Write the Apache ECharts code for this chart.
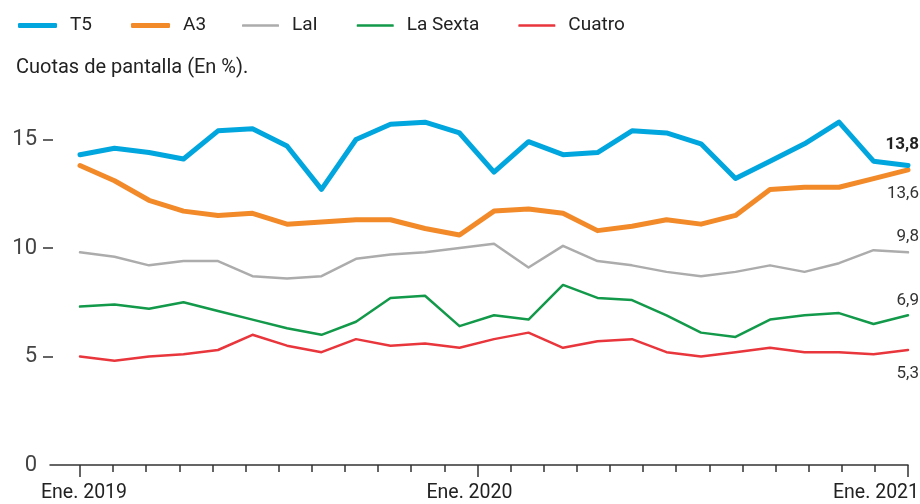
<!DOCTYPE html>
<html>
<head>
<meta charset="utf-8">
<script src="https://cdn.jsdelivr.net/npm/echarts@6/dist/echarts.min.js"></script>
<style>html,body{margin:0;padding:0;background:#fff}#c{width:920px;height:504px}</style>
</head>
<body>
<div id="c"></div>
<script>
var months = ['Ene. 2019','Feb. 2019','Mar. 2019','Abr. 2019','May. 2019','Jun. 2019','Jul. 2019','Ago. 2019','Sep. 2019','Oct. 2019','Nov. 2019','Dic. 2019',
  'Ene. 2020','Feb. 2020','Mar. 2020','Abr. 2020','May. 2020','Jun. 2020','Jul. 2020','Ago. 2020','Sep. 2020','Oct. 2020','Nov. 2020','Dic. 2020','Ene. 2021'];
var tickLabels = ['Ene. 2019','','','','','','','','','','','','Ene. 2020','','','','','','','','','','','','','Ene. 2021'];
var seriesNames = ['T5','A3','LaI','La Sexta','Cuatro'];
var t5 = [14.3,14.6,14.4,14.1,15.4,15.5,14.7,12.7,15.0,15.7,15.8,15.3,13.5,14.9,14.3,14.4,15.4,15.3,14.8,13.2,14.0,14.8,15.8,14.0,13.8];
var a3 = [13.8,13.1,12.2,11.7,11.5,11.6,11.1,11.2,11.3,11.3,10.9,10.6,11.7,11.8,11.6,10.8,11.0,11.3,11.1,11.5,12.7,12.8,12.8,13.2,13.6];
var lai = [9.8,9.6,9.2,9.4,9.4,8.7,8.6,8.7,9.5,9.7,9.8,10.0,10.2,9.1,10.1,9.4,9.2,8.9,8.7,8.9,9.2,8.9,9.3,9.9,9.8];
var laSexta = [7.3,7.4,7.2,7.5,7.1,6.7,6.3,6.0,6.6,7.7,7.8,6.4,6.9,6.7,8.3,7.7,7.6,6.9,6.1,5.9,6.7,6.9,7.0,6.5,6.9];
var cuatro = [5.0,4.8,5.0,5.1,5.3,6.0,5.5,5.2,5.8,5.5,5.6,5.4,5.8,6.1,5.4,5.7,5.8,5.2,5.0,5.2,5.4,5.2,5.2,5.1,5.3];
var yLabels = [0,5,10,15];
var yTicks = [5,10,15];

var FONT = "Roboto, 'Liberation Sans', sans-serif";
var colors = ['#00a6dd','#f28a2a','#acacac','#12994a','#e8363c'];
var widths = [5,5,2.5,2.5,2.5];
var endOffsets = [[11,-21,'bold','#222'],[11,24,'normal','#333'],[11,-16,'normal','#333'],[11,-15,'normal','#333'],[11,24,'normal','#333']];
var allData = [t5,a3,lai,laSexta,cuatro];
var last = months.length - 1;

var series = seriesNames.map(function(name,i){
  return {
    name: name, type: 'line', xAxisIndex: 2, yAxisIndex: 0,
    data: allData[i], clip: false, silent: true,
    showSymbol: true, symbol: 'circle', symbolSize: 0,
    lineStyle: {color: colors[i], width: widths[i], cap: 'round', join: 'round'},
    itemStyle: {color: colors[i]},
    emphasis: {disabled: true},
    label: {
      show: true, position: 'inside', align: 'right', verticalAlign: 'middle',
      offset: [endOffsets[i][0], endOffsets[i][1]],
      fontFamily: FONT, fontSize: 17, fontWeight: endOffsets[i][2], color: endOffsets[i][3],
      formatter: function(p){ return p.dataIndex === last ? String(p.value).replace('.', ',') : ''; }
    },
    z: 10 - i
  };
});
series.push({type:'line', xAxisIndex:3, yAxisIndex:1, data:[], silent:true});

var legendText = {fontFamily: FONT, fontSize: 19, color: '#222', padding: [0,0,0,8]};

var chart = echarts.init(document.getElementById('c'));
chart.setOption({
  animation: false,
  textStyle: {fontFamily: FONT},
  title: {text: 'Cuotas de pantalla (En %).', left: 11, top: 53, textStyle: {fontFamily: FONT, fontSize: 20, fontWeight: 'normal', color: '#222'}},
  legend: [
    {left: 13, top: 11, itemWidth: 39, itemHeight: 5, itemGap: 39, icon: 'roundRect',
     data: seriesNames.slice(0,2), textStyle: legendText},
    {left: 237, top: 11, itemWidth: 37, itemHeight: 2.5, itemGap: 39, icon: 'roundRect',
     data: seriesNames.slice(2), textStyle: legendText}
  ],
  grid: [
    {left: 80, right: 12, top: 117.8, bottom: 39, outerBoundsMode: 'none', containLabel: false},
    {left: 50, right: 12, top: 117.8, bottom: 39, outerBoundsMode: 'none', containLabel: false}
  ],
  xAxis: [
    {type: 'category', gridIndex: 0, position: 'bottom', data: tickLabels.map(function(_,i){return String(i);}), boundaryGap: false,
     axisLine: {show: false},
     axisTick: {show: true, interval: 0, length: 7, lineStyle: {color: '#333', width: 1.5}},
     axisLabel: {show: true, margin: 18, fontFamily: FONT, fontSize: 19.5, color: '#222',
       interval: function(idx){ return tickLabels[idx] !== ''; },
       formatter: function(v, idx){
         var t = tickLabels[idx];
         if (!t) return '';
         if (idx === 0) return '{a|' + t + '}';
         if (idx === 12) return '{b|' + t + '}';
         return '{c|' + t + '}';
       },
       rich: {
         a: {fontFamily: FONT, fontSize: 19.5, color: '#222', padding: [0,0,0,8]},
         b: {fontFamily: FONT, fontSize: 19.5, color: '#222', padding: [0,16,0,0]},
         c: {fontFamily: FONT, fontSize: 19.5, color: '#222', padding: [0,64,0,0]}
       }},
     splitLine: {show: false}},
    {type: 'category', gridIndex: 0, position: 'bottom', data: tickLabels.map(function(_,i){return String(i);}), boundaryGap: false,
     axisLine: {show: false},
     axisTick: {show: true, length: 12, lineStyle: {color: '#333', width: 1.5},
       interval: function(idx){ return tickLabels[idx] !== ''; }},
     axisLabel: {show: false}, splitLine: {show: false}},
    {type: 'category', gridIndex: 0, position: 'bottom', data: months, boundaryGap: false, show: false},
    {type: 'value', gridIndex: 1, position: 'bottom', min: 0, max: 1,
     axisLine: {show: true, lineStyle: {color: '#333', width: 1.5}},
     axisTick: {show: false}, axisLabel: {show: false}, splitLine: {show: false}}
  ],
  yAxis: [
    {type: 'value', gridIndex: 0, min: 0, max: 16, position: 'left', offset: 27,
     axisLine: {show: false},
     axisTick: {show: true, length: 10, customValues: yTicks, lineStyle: {color: '#333', width: 1.5}},
     axisLabel: {show: true, margin: 16, customValues: yLabels, fontFamily: FONT, fontSize: 22, color: '#444'},
     splitLine: {show: false}},
    {type: 'value', gridIndex: 1, min: 0, max: 16, show: false}
  ],
  series: series
});
</script>
</body>
</html>
